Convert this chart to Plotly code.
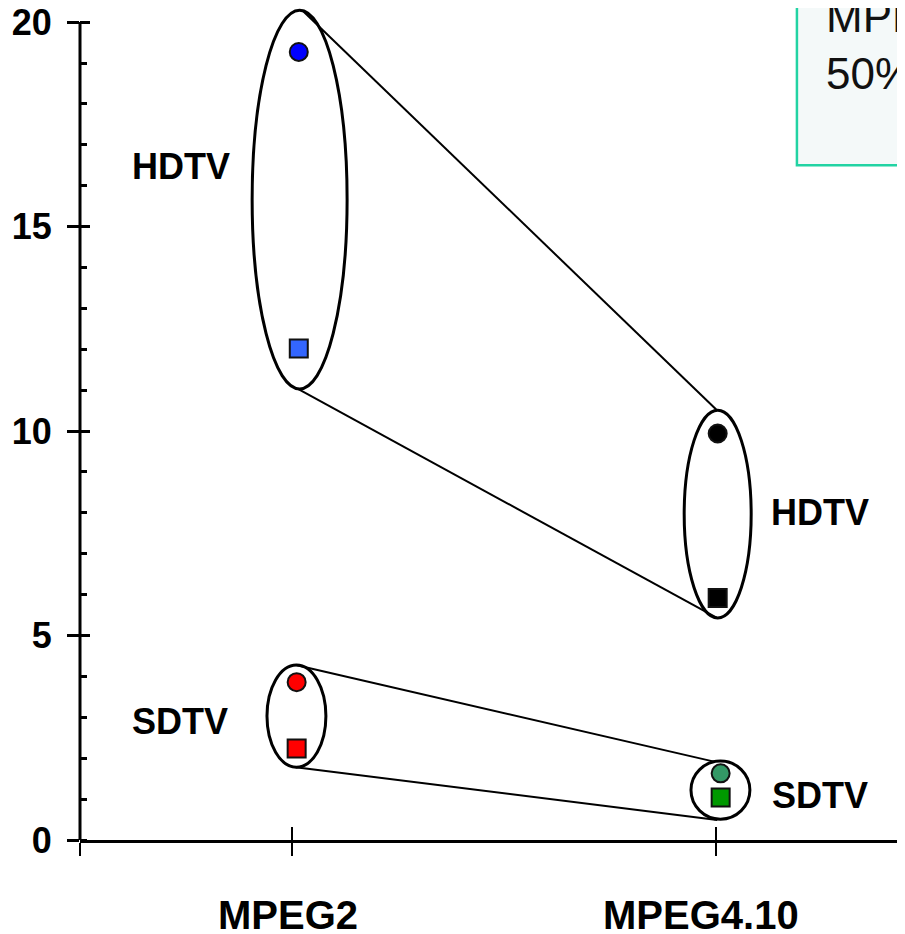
import plotly.graph_objects as go

# ---------------- data ----------------
categories = ["MPEG2", "MPEG4.10"]
cat_pos = [0, 1]

# upper points (circles) and lower points (squares) of each group
hdtv_circle = [19.27, 9.94]
hdtv_square = [12.02, 5.92]
sdtv_circle = [3.86, 1.63]
sdtv_square = [2.24, 1.04]

y_ticks = [0, 5, 10, 15, 20]

# ---------------- styles ----------------
FONT = "Liberation Sans, Arial, sans-serif"
HD_CIRCLE_COLORS = ["#0000ff", "#000000"]
HD_SQUARE_COLORS = ["#3366ff", "#000000"]
SD_CIRCLE_COLORS = ["#ff0000", "#339966"]
SD_SQUARE_COLORS = ["#ff0000", "#009900"]
NUDGE_HD = [0.016, 0.004]
NUDGE_SD = [0.011, 0.011]
LABEL_PAD = ["", "&nbsp;&nbsp;"]   # nudges the category labels slightly left

X_RANGE = [-0.5, 1.4458]
Y_RANGE = [0, 20.345]

fig = go.Figure()


def add_points(vals, colors, nudge, symbol):
    fig.add_trace(go.Scatter(
        x=[p + n for p, n in zip(cat_pos, nudge)], y=vals, mode="markers",
        marker=dict(symbol=symbol, size=18, color=colors,
                    line=dict(color="#111111", width=2)),
        showlegend=False, hoverinfo="skip", cliponaxis=False))


# grouping ellipses (position / styling, not data)
ellipses = [
    (-0.094, 0.130, 11.03, 20.29),
    (-0.059, 0.080, 1.78, 4.28),
    (0.925, 1.083, 5.43, 10.51),
    (0.941, 1.080, 0.51, 1.93),
]
for x0, x1, y0, y1 in ellipses:
    fig.add_shape(type="circle", xref="x", yref="y", x0=x0, x1=x1, y0=y0, y1=y1,
                  line=dict(color="black", width=3), layer="below")

connectors = [
    (0.024, 20.29, 1.0024, 10.51),
    (0.014, 11.03, 1.0024, 5.43),
    (0.009, 4.28, 0.998, 1.91),
    (0.009, 1.78, 1.003, 0.49),
]
for x0, y0, x1, y1 in connectors:
    fig.add_shape(type="line", xref="x", yref="y", x0=x0, y0=y0, x1=x1, y1=y1,
                  line=dict(color="black", width=2), layer="below")

add_points(hdtv_circle, HD_CIRCLE_COLORS, NUDGE_HD, "circle")
add_points(hdtv_square, HD_SQUARE_COLORS, NUDGE_HD, "square")
add_points(sdtv_circle, SD_CIRCLE_COLORS, NUDGE_SD, "circle")
add_points(sdtv_square, SD_SQUARE_COLORS, NUDGE_SD, "square")

# dummy trace to hold overlay axes (used for the inner half of crossing ticks)
fig.add_trace(go.Scatter(x=[None], y=[None], xaxis="x2", yaxis="y2",
                         showlegend=False, hoverinfo="skip"))

# y axis line (only up to 20)
fig.add_shape(type="line", xref="paper", yref="y", x0=0, x1=0, y0=0, y1=20,
              line=dict(color="black", width=3))

# inset text box (cut off at the right edge)
fig.add_shape(type="rect", xref="paper", yref="paper", x0=0.869, x1=1.3, y0=0.811, y1=1.2,
              line=dict(color="#22d3a3", width=2.5), fillcolor="#f4f9f9", layer="below")
fig.add_annotation(xref="paper", yref="paper", x=0.9018, y=0.956, xanchor="left", yanchor="middle",
                   align="left", showarrow=False,
                   text="MPEG4.10 saves<br>50% bit rate",
                   font=dict(family=FONT, size=44, color="#111111"))

# group labels
labels = [
    ("HDTV", -0.261, 16.47),
    ("SDTV", -0.264, 2.89),
    ("HDTV", 1.245, 8.0),
    ("SDTV", 1.245, 1.08),
]
for t, x, y in labels:
    fig.add_annotation(xref="x", yref="y", x=x, y=y, text="<b>%s</b>" % t, showarrow=False,
                       font=dict(family=FONT, size=36, color="black"))

fig.update_layout(
    width=897, height=926,
    template="none",
    margin=dict(l=72, r=0, t=0, b=94, pad=0),
    paper_bgcolor="white", plot_bgcolor="white",
    showlegend=False,
    font=dict(family=FONT, color="black"),
    xaxis=dict(
        range=X_RANGE, tickmode="array", tickvals=[-0.5] + cat_pos,
        ticktext=[""] + ["<b>%s</b>%s" % (c, p) for c, p in zip(categories, LABEL_PAD)],
        ticks="outside", ticklen=13, tickwidth=2, tickcolor="black",
        showline=True, linewidth=3, linecolor="black",
        showgrid=False, zeroline=False, automargin=False,
        tickfont=dict(family=FONT, size=40, color="black"),
        ticklabelstandoff=25, ticklabelshift=-4, ticklabeloverflow="allow",
    ),
    xaxis2=dict(
        range=X_RANGE, overlaying="x", anchor="y2", side="bottom",
        tickmode="array", tickvals=cat_pos, ticks="inside", ticklen=13, tickwidth=2,
        tickcolor="black", showticklabels=False, showline=False, showgrid=False,
        zeroline=False, automargin=False,
    ),
    yaxis=dict(
        range=Y_RANGE, tickmode="array", tickvals=y_ticks,
        ticktext=["<b>%d</b>" % v for v in y_ticks],
        ticks="outside", ticklen=12, tickwidth=2.5, tickcolor="black",
        minor=dict(tickmode="linear", tick0=0, dtick=1, ticks="inside", ticklen=7,
                   tickwidth=2.5, tickcolor="black", showgrid=False),
        showline=False, showgrid=False, zeroline=False, automargin=False,
        tickfont=dict(family=FONT, size=36, color="black"),
        ticklabelstandoff=8, ticklabeloverflow="allow",
    ),
    yaxis2=dict(
        range=Y_RANGE, overlaying="y", anchor="x2", side="left",
        tickmode="array", tickvals=y_ticks, ticks="inside", ticklen=10, tickwidth=2.5,
        tickcolor="black", showticklabels=False, showline=False, showgrid=False,
        zeroline=False, automargin=False,
    ),
)

fig.write_html("out.html")
